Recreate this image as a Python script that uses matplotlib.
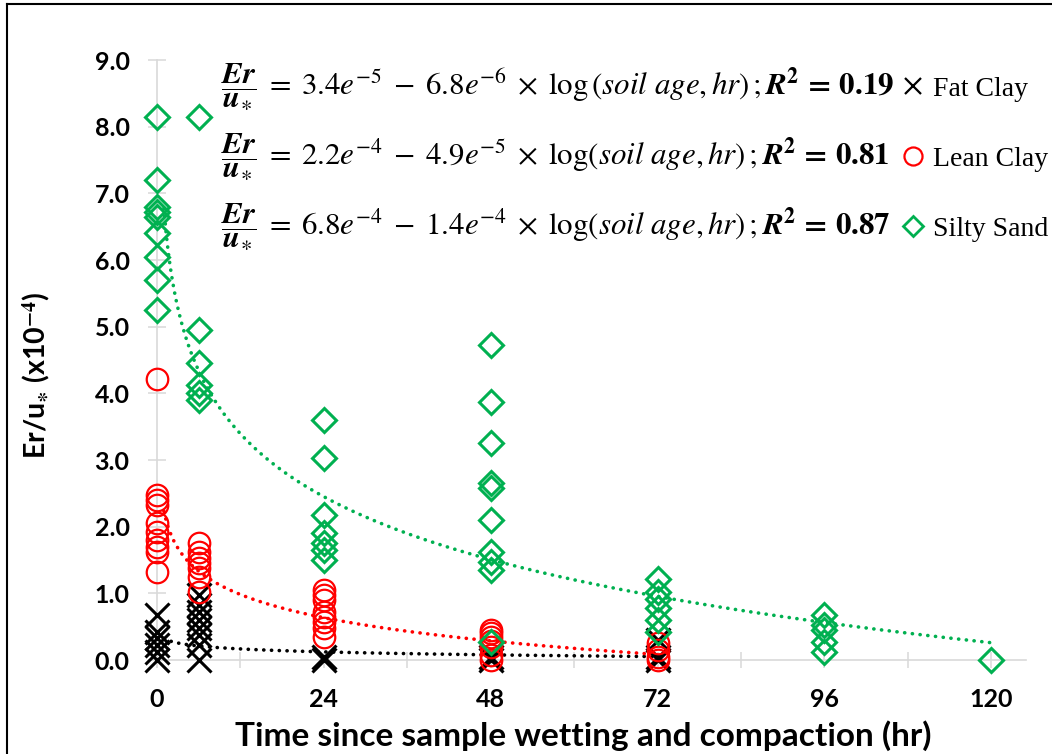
import matplotlib
matplotlib.use('Agg')
import matplotlib.pyplot as plt
import numpy as np
from matplotlib.lines import Line2D
from matplotlib.ticker import MultipleLocator

plt.rcParams['mathtext.fontset'] = 'stix'

# ---------------- data (Er/u* in units of 1e-4) ----------------
fat_t = [0, 0, 0, 0, 0, 0,
         6, 6, 6, 6, 6, 6, 6, 6,
         24, 24,
         48, 48,
         72, 72, 72]
fat_v = [0.67, 0.42, 0.33, 0.22, 0.12, 0.0,
         0.97, 0.82, 0.72, 0.60, 0.48, 0.37, 0.22, 0.0,
         0.05, 0.0,
         0.05, 0.0,
         0.30, 0.05, 0.0]

lean_t = [0, 0, 0, 0, 0, 0, 0, 0, 0, 0,
          6, 6, 6, 6, 6, 6, 6,
          24, 24, 24, 24, 24, 24, 24, 24,
          48, 48, 48, 48, 48, 48, 48,
          72, 72, 72, 72]
lean_v = [4.22, 2.47, 2.40, 2.33, 2.05, 1.92, 1.80, 1.70, 1.62, 1.32,
          1.75, 1.62, 1.53, 1.45, 1.38, 1.25, 1.02,
          1.05, 0.97, 0.90, 0.72, 0.65, 0.57, 0.48, 0.35,
          0.45, 0.40, 0.35, 0.28, 0.20, 0.08, 0.0,
          0.25, 0.15, 0.05, 0.0]

silt_t = [0, 0, 0, 0, 0, 0, 0, 0, 0,
          6, 6, 6, 6, 6, 6,
          24, 24, 24, 24, 24, 24, 24,
          48, 48, 48, 48, 48, 48, 48, 48, 48, 48,
          72, 72, 72, 72, 72, 72,
          96, 96, 96, 96, 96,
          120]
silt_v = [8.15, 7.20, 6.80, 6.72, 6.65, 6.40, 6.05, 5.70, 5.25,
          8.15, 4.95, 4.45, 4.12, 4.00, 3.90,
          3.60, 3.03, 2.17, 1.90, 1.75, 1.65, 1.50,
          4.72, 3.87, 3.25, 2.65, 2.58, 2.10, 1.62, 1.47, 1.35, 0.27,
          1.22, 1.02, 0.92, 0.78, 0.60, 0.42,
          0.68, 0.52, 0.45, 0.27, 0.12,
          0.0]

# logarithmic trendlines  y = a - b*ln(t), drawn over [t_start, t_end]
fat_trend = (0.325, 0.064, 1, 72)
lean_trend = (2.23, 0.502, 1, 72)
silt_trend = (6.775, 1.361, 1, 120)

series_names = ['Fat Clay', 'Lean Clay', 'Silty Sand']
equations = [
    r'$\dfrac{\boldsymbol{Er}}{\boldsymbol{u}_{\ast}}\;=\;3.4e^{-5}\;-\;6.8e^{-6}\;\times\;\log\left(\mathit{soil\ age, hr}\right)\,;\boldsymbol{R}^{\mathbf{2}}\mathbf{\,=\,0.19}$',
    r'$\dfrac{\boldsymbol{Er}}{\boldsymbol{u}_{\ast}}\;=\;2.2e^{-4}\;-\;4.9e^{-5}\;\times\;\log(\mathit{soil\ age, hr})\,;\boldsymbol{R}^{\mathbf{2}}\mathbf{\,=\,0.81}$',
    r'$\dfrac{\boldsymbol{Er}}{\boldsymbol{u}_{\ast}}\;=\;6.8e^{-4}\;-\;1.4e^{-4}\;\times\;\log(\mathit{soil\ age, hr})\,;\boldsymbol{R}^{\mathbf{2}}\mathbf{\,=\,0.87}$',
]
xticks_major = [0, 24, 48, 72, 96, 120]
yticks = [0, 1, 2, 3, 4, 5, 6, 7, 8, 9]
xlabel = 'Time since sample wetting and compaction (hr)'
ylabel = r'Er/u$_{\mathbf{\ast}}$ (x10$^{\mathbf{-4}}$)'

GREEN = '#00B050'
RED = '#FF0000'
GRID = '#D9D9D9'

W, H = 1052, 754
fig = plt.figure(figsize=(W / 100, H / 100), dpi=100)
ax = fig.add_axes([157 / W, 1 - 660 / H, (1026 - 157) / W, 600 / H])

# trendlines (below markers)
dot_style = dict(linestyle=(0, (0.05, 2.1)), dash_capstyle='round', linewidth=2.6)
for (a, b, t0, t1), col in zip([fat_trend, lean_trend, silt_trend], ['black', RED, GREEN]):
    tt = np.linspace(t0, t1, 400)
    ax.plot(tt, a - b * np.log(tt), color=col, zorder=2, **dot_style)

ax.plot(fat_t, fat_v, linestyle='none', marker='x', ms=17, mew=2.2,
        color='black', clip_on=False, zorder=3)
ax.plot(lean_t, lean_v, linestyle='none', marker='o', ms=15.5, mew=1.6,
        mfc='none', mec=RED, clip_on=False, zorder=4)
ax.plot(silt_t, silt_v, linestyle='none', marker='D', ms=12, mew=2.2,
        mfc='none', mec=GREEN, clip_on=False, zorder=5)

ax.set_xlim(0, 125)
ax.set_ylim(0, 9)
for s in ['top', 'right']:
    ax.spines[s].set_visible(False)
for s in ['left', 'bottom']:
    ax.spines[s].set_color(GRID)
    ax.spines[s].set_linewidth(1.2)
    ax.spines[s].set_zorder(1)

ax.set_xticks(xticks_major)
ax.set_xticklabels([str(v) for v in xticks_major])
ax.xaxis.set_minor_locator(MultipleLocator(12))
ax.set_yticks(yticks)
ax.set_yticklabels(['%.1f' % v for v in yticks])

for lab in ax.get_xticklabels() + ax.get_yticklabels():
    lab.set_fontfamily('Lato')
    lab.set_fontweight('bold')
    lab.set_fontsize(18)
ax.tick_params(axis='y', which='major', direction='inout', length=13.5, width=1.1,
               color=GRID, pad=13, labelcolor='black')
ax.tick_params(axis='x', which='both', direction='inout', length=11, width=1.1,
               color=GRID, pad=15, labelcolor='black')

fig.text((237 + 930) / 2 / W, 1 - 736 / H, xlabel, ha='center', va='center',
         fontsize=24, fontweight='bold', family='Lato')
fig.text(37 / W, 1 - 375 / H, ylabel, ha='center', va='center', rotation=90,
         fontsize=20.5, fontweight='bold', family='Lato')

rows_y = [87, 157, 227]
for eq, yy in zip(equations, rows_y):
    fig.text(221 / W, 1 - yy / H, eq, ha='left', va='center', fontsize=22.3)

handles = [Line2D([], [], linestyle='none', marker='x', ms=12, mew=1.6, color='black'),
           Line2D([], [], linestyle='none', marker='o', ms=13, mew=1.6, mfc='none', mec=RED),
           Line2D([], [], linestyle='none', marker='D', ms=10, mew=2.0, mfc='none', mec=GREEN)]
fig.legend(handles, series_names, loc='center left', bbox_to_anchor=(902 / W, 1 - 159 / H),
           frameon=False, borderpad=0, borderaxespad=0, handlelength=0.8, handletextpad=0.3,
           labelspacing=1.6, prop=dict(family='Liberation Serif', size=20))

# outer frame (left and top)
fig.add_artist(Line2D([7 / W, 7 / W], [0, 1 - 4 / H], transform=fig.transFigure, color='black', lw=1.5))
fig.add_artist(Line2D([7 / W, 1], [1 - 4 / H, 1 - 4 / H], transform=fig.transFigure, color='black', lw=1.5))

fig.savefig('out.png', dpi=100)
